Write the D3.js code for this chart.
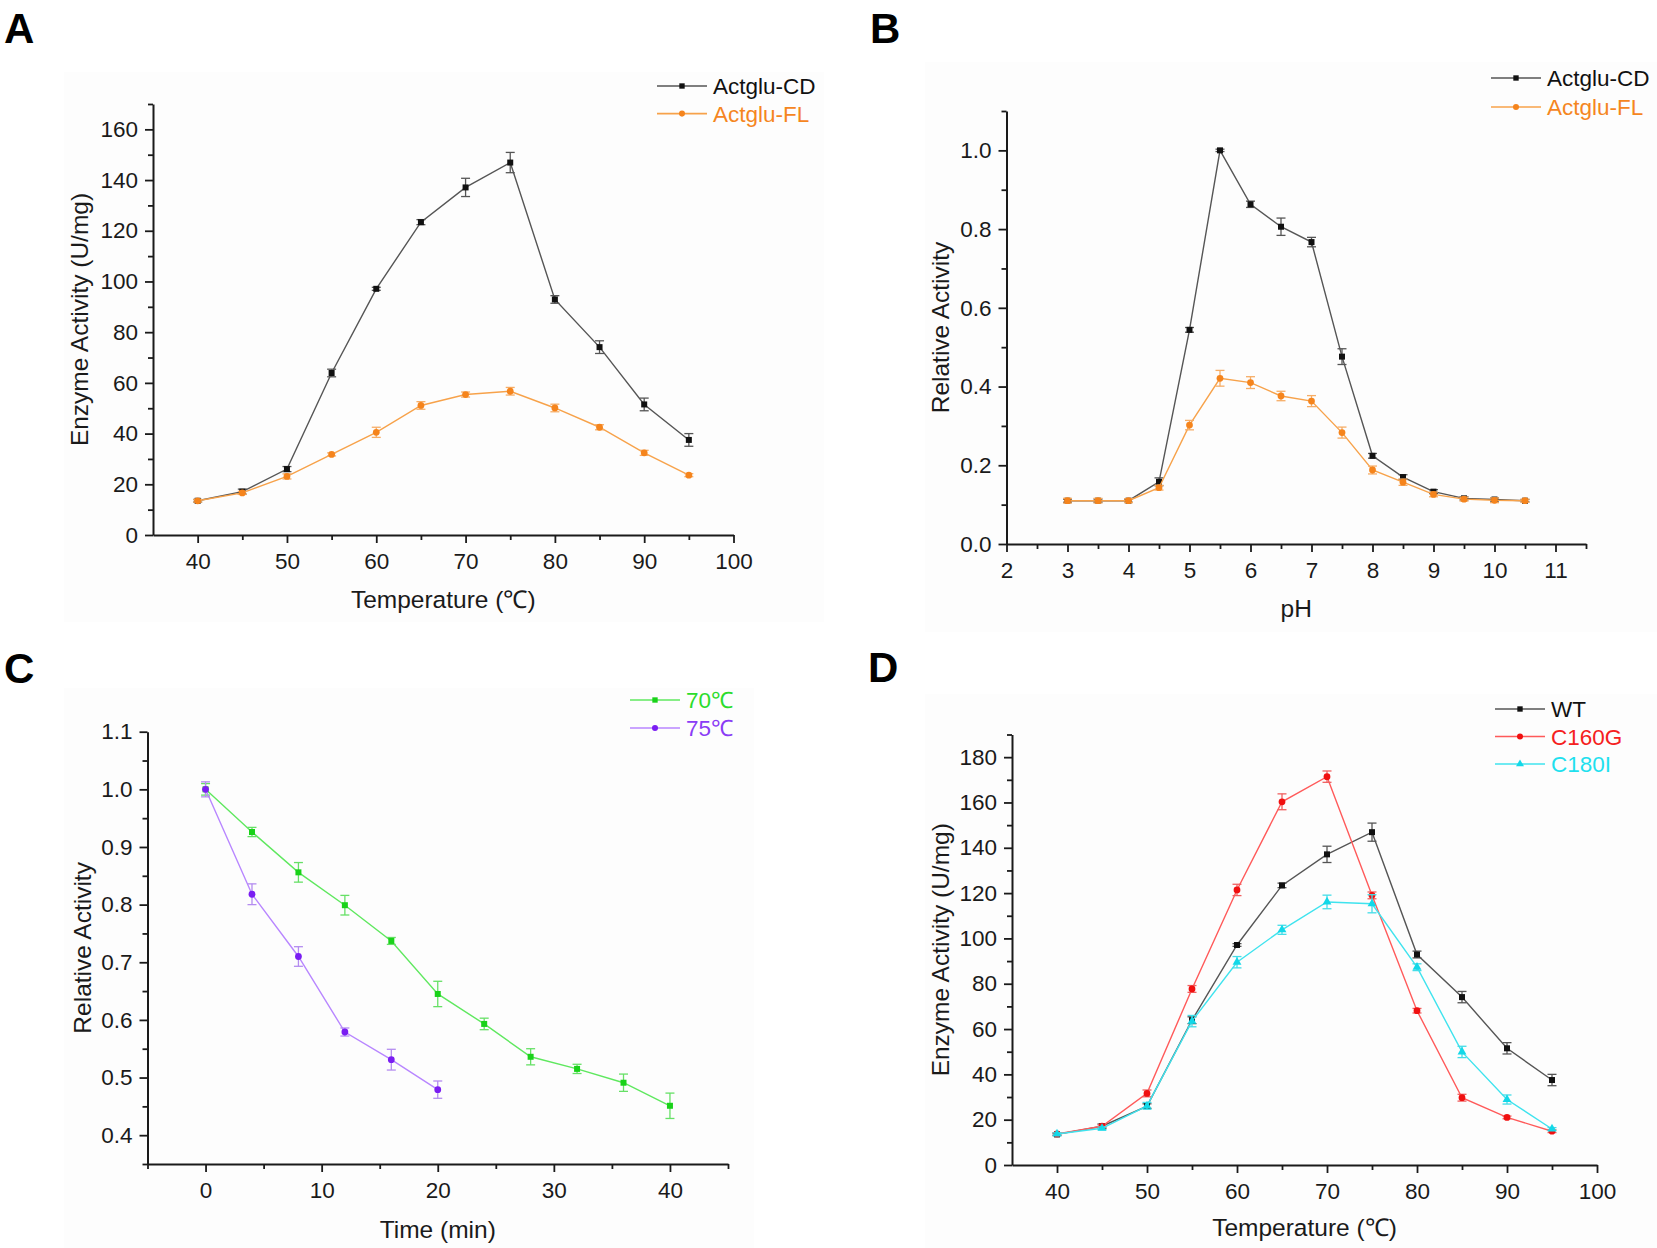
<!DOCTYPE html>
<html>
<head>
<meta charset="utf-8">
<script src="https://cdn.jsdelivr.net/npm/d3@7"></script>
<style>
  html, body { margin: 0; padding: 0; background: #fff; }
  svg { display: block; }
  .tick text { font-family: "Liberation Sans", Arial, sans-serif; }
</style>
</head>
<body>
<svg id="fig" width="1657" height="1248"></svg>
<script>
// ---------------- DATA ----------------
// Panel A: temperature profile
const tempX = [40, 45, 50, 55, 60, 65, 70, 75, 80, 85, 90, 95];
const cdActivity = [13.5, 17.1, 26.0, 63.9, 97.1, 123.4, 137.1, 146.9, 92.9, 74.1, 51.5, 37.5];
const cdActivityErr = [0.5, 1.0, 1.0, 1.5, 0.6, 1.0, 3.6, 4.0, 1.5, 2.5, 2.5, 2.5];
const flActivity = [13.5, 16.6, 23.1, 31.8, 40.5, 51.1, 55.4, 56.7, 50.1, 42.5, 32.4, 23.6];
const flActivityErr = [0.5, 0.6, 1.0, 0.6, 2.0, 1.5, 1.0, 1.5, 1.5, 1.0, 1.0, 0.6];

// Panel B: pH profile
const phX = [3, 3.5, 4, 4.5, 5, 5.5, 6, 6.5, 7, 7.5, 8, 8.5, 9, 9.5, 10, 10.5];
const cdRel = [0.110, 0.110, 0.110, 0.158, 0.544, 1.000, 0.863, 0.806, 0.767, 0.476, 0.224, 0.170, 0.133, 0.116, 0.113, 0.110];
const cdRelErr = [0.004, 0.004, 0.004, 0.010, 0.006, 0.003, 0.008, 0.022, 0.012, 0.020, 0.006, 0.006, 0.005, 0.004, 0.004, 0.003];
const flRel = [0.110, 0.110, 0.110, 0.143, 0.302, 0.421, 0.410, 0.376, 0.363, 0.283, 0.188, 0.157, 0.126, 0.114, 0.111, 0.110];
const flRelErr = [0.006, 0.006, 0.005, 0.006, 0.012, 0.020, 0.015, 0.012, 0.014, 0.014, 0.010, 0.008, 0.006, 0.005, 0.006, 0.004];

// Panel C: thermal stability
const time70 = [0, 4, 8, 12, 16, 20, 24, 28, 32, 36, 40];
const rel70 = [1.000, 0.926, 0.856, 0.799, 0.737, 0.645, 0.593, 0.536, 0.515, 0.491, 0.451];
const rel70Err = [0.010, 0.008, 0.017, 0.017, 0.006, 0.022, 0.010, 0.014, 0.008, 0.015, 0.022];
const time75 = [0, 4, 8, 12, 16, 20];
const rel75 = [1.000, 0.818, 0.710, 0.579, 0.531, 0.479];
const rel75Err = [0.013, 0.018, 0.017, 0.007, 0.018, 0.015];

// Panel D: mutants
const wtActivity = cdActivity;
const wtActivityErr = cdActivityErr;
const c160gActivity = [13.7, 17.1, 31.6, 77.7, 121.4, 160.3, 171.4, 119.0, 68.1, 29.7, 21.0, 14.9];
const c160gErr = [0.5, 0.6, 1.5, 1.5, 2.5, 3.5, 2.5, 1.5, 1.0, 1.5, 0.6, 0.6];
const c180iActivity = [13.7, 16.2, 26.1, 63.5, 89.5, 103.8, 116.1, 115.3, 87.3, 49.9, 28.9, 15.9];
const c180iErr = [0.5, 0.6, 1.5, 2.5, 2.5, 2.0, 3.0, 4.0, 1.5, 2.5, 2.0, 0.6];

// Tick labels / values
const tempMajor = [40, 50, 60, 70, 80, 90, 100];
const tempMinor = [45, 55, 65, 75, 85, 95];
const actMajorA = [0, 20, 40, 60, 80, 100, 120, 140, 160];
const actMinorA = [10, 30, 50, 70, 90, 110, 130, 150, 170];
const phMajor = [2, 3, 4, 5, 6, 7, 8, 9, 10, 11];
const phMinor = [2.5, 3.5, 4.5, 5.5, 6.5, 7.5, 8.5, 9.5, 10.5, 11.5];
const relMajorB = [0, 0.2, 0.4, 0.6, 0.8, 1.0];
const relMinorB = [0.1, 0.3, 0.5, 0.7, 0.9, 1.1];
const timeMajor = [0, 10, 20, 30, 40];
const timeMinor = [-5, 5, 15, 25, 35, 45];
const relMajorC = [0.4, 0.5, 0.6, 0.7, 0.8, 0.9, 1.0, 1.1];
const relMinorC = [0.35, 0.45, 0.55, 0.65, 0.75, 0.85, 0.95, 1.05];
const actMajorD = [0, 20, 40, 60, 80, 100, 120, 140, 160, 180];
const actMinorD = [10, 30, 50, 70, 90, 110, 130, 150, 170, 190];

// ---------------- DRAWING ----------------
const svg = d3.select("#fig");
const FONT = "'Liberation Sans', Arial, Helvetica, sans-serif";
const AXIS = "#1a1a1a";

// very faint panel backgrounds
[[64, 72, 760, 550], [925, 62, 732, 570], [64, 688, 690, 560], [925, 694, 732, 554]].forEach(r => {
  svg.append("rect").attr("x", r[0]).attr("y", r[1]).attr("width", r[2]).attr("height", r[3]).attr("fill", "#fdfdfd");
});

function panel(cfg) {
  const g = svg.append("g");
  const x = d3.scaleLinear().domain(cfg.xDomain).range([cfg.left, cfg.right]);
  const y = d3.scaleLinear().domain(cfg.yDomain).range([cfg.bottom, cfg.top]);

  // minor ticks
  g.append("g").attr("transform", `translate(0,${cfg.bottom})`)
    .call(d3.axisBottom(x).tickValues(cfg.xMinor).tickSize(5).tickFormat(""))
    .call(a => a.select(".domain").remove());
  g.append("g").attr("transform", `translate(${cfg.left},0)`)
    .call(d3.axisLeft(y).tickValues(cfg.yMinor).tickSize(5).tickFormat(""))
    .call(a => a.select(".domain").remove());
  // major
  g.append("g").attr("transform", `translate(0,${cfg.bottom})`)
    .call(d3.axisBottom(x).tickValues(cfg.xMajor).tickSize(8).tickSizeOuter(0).tickPadding(10).tickFormat(cfg.xFmt));
  g.append("g").attr("transform", `translate(${cfg.left},0)`)
    .call(d3.axisLeft(y).tickValues(cfg.yMajor).tickSize(8).tickSizeOuter(0).tickPadding(7).tickFormat(cfg.yFmt));
  g.selectAll(".domain").attr("stroke", AXIS).attr("stroke-width", 2);
  g.selectAll(".tick line").attr("stroke", AXIS).attr("stroke-width", 1.8);
  g.selectAll(".tick text").attr("font-size", 22.5).attr("fill", "#1a1a1a").attr("font-family", FONT);

  // axis titles
  g.append("text").attr("x", (cfg.left + cfg.right) / 2).attr("y", cfg.xTitleY)
    .attr("text-anchor", "middle").attr("font-family", FONT).attr("font-size", 24.5).attr("fill", "#1a1a1a")
    .text(cfg.xTitle);
  g.append("text").attr("transform", `translate(${cfg.yTitleX},${(cfg.top + cfg.bottom) / 2}) rotate(-90)`)
    .attr("text-anchor", "middle").attr("font-family", FONT).attr("font-size", 24.5).attr("fill", "#1a1a1a")
    .text(cfg.yTitle);

  // panel letter
  svg.append("text").attr("x", cfg.letterX).attr("y", cfg.letterY)
    .attr("font-family", "'Liberation Sans', Arial, sans-serif").attr("font-weight", 700)
    .attr("font-size", 42).attr("fill", "#000").text(cfg.letter);

  // series
  cfg.series.forEach(s => {
    const pts = s.x.map((xv, i) => ({ x: xv, y: s.y[i], e: s.e[i] }));
    const sg = g.append("g");
    sg.append("path").datum(pts)
      .attr("d", d3.line().x(d => x(d.x)).y(d => y(d.y)))
      .attr("fill", "none").attr("stroke", s.line).attr("stroke-width", 1.4);
    // error bars
    const eb = sg.selectAll(".eb").data(pts).join("g").attr("stroke", s.err).attr("stroke-width", 1.3);
    eb.append("line").attr("x1", d => x(d.x)).attr("x2", d => x(d.x))
      .attr("y1", d => y(d.y - d.e)).attr("y2", d => y(d.y + d.e));
    eb.append("line").attr("x1", d => x(d.x) - 4.5).attr("x2", d => x(d.x) + 4.5)
      .attr("y1", d => y(d.y + d.e)).attr("y2", d => y(d.y + d.e));
    eb.append("line").attr("x1", d => x(d.x) - 4.5).attr("x2", d => x(d.x) + 4.5)
      .attr("y1", d => y(d.y - d.e)).attr("y2", d => y(d.y - d.e));
    // markers
    sg.selectAll(".mk").data(pts).join("path")
      .attr("transform", d => `translate(${x(d.x)},${y(d.y)})`)
      .attr("d", d3.symbol().type(s.shape).size(s.size))
      .attr("fill", s.marker);
  });

  // legend
  cfg.series.forEach((s, i) => {
    const ly = cfg.legY + i * cfg.legDy;
    svg.append("line").attr("x1", cfg.legX).attr("x2", cfg.legX + 50).attr("y1", ly).attr("y2", ly)
      .attr("stroke", s.line).attr("stroke-width", 1.6);
    svg.append("path").attr("transform", `translate(${cfg.legX + 25},${ly})`)
      .attr("d", d3.symbol().type(s.shape).size(s.size * 0.8)).attr("fill", s.marker);
    svg.append("text").attr("x", cfg.legX + 56).attr("y", ly + 8)
      .attr("font-family", FONT).attr("font-size", 22.5).attr("fill", s.text).text(s.name);
  });
}

const CD = { line: "#555", err: "#555", marker: "#111", text: "#111", shape: d3.symbolSquare, size: 36 };
const FL = { line: "#f7a24a", err: "#f6ad66", marker: "#f5841c", text: "#f5861f", shape: d3.symbolCircle, size: 36 };

panel({
  letter: "A", letterX: 4, letterY: 43,
  left: 153, right: 733.5, top: 104, bottom: 535,
  xDomain: [35, 100], yDomain: [0, 170],
  xMajor: tempMajor, xMinor: tempMinor, yMajor: actMajorA, yMinor: actMinorA,
  xFmt: d3.format("d"), yFmt: d3.format("d"),
  xTitle: "Temperature (℃)", xTitleY: 608,
  yTitle: "Enzyme Activity (U/mg)", yTitleX: 88,
  legX: 657, legY: 86, legDy: 27.6,
  series: [
    Object.assign({ name: "Actglu-CD", x: tempX, y: cdActivity, e: cdActivityErr }, CD),
    Object.assign({ name: "Actglu-FL", x: tempX, y: flActivity, e: flActivityErr }, FL)
  ]
});

panel({
  letter: "B", letterX: 870, letterY: 43,
  left: 1006.5, right: 1586, top: 111, bottom: 544,
  xDomain: [2, 11.5], yDomain: [0, 1.1],
  xMajor: phMajor, xMinor: phMinor, yMajor: relMajorB, yMinor: relMinorB,
  xFmt: d3.format("d"), yFmt: d3.format(".1f"),
  xTitle: "pH", xTitleY: 617,
  yTitle: "Relative Activity", yTitleX: 949,
  legX: 1491, legY: 78, legDy: 29,
  series: [
    Object.assign({ name: "Actglu-CD", x: phX, y: cdRel, e: cdRelErr }, CD),
    Object.assign({ name: "Actglu-FL", x: phX, y: flRel, e: flRelErr }, FL)
  ]
});

panel({
  letter: "C", letterX: 4, letterY: 683,
  left: 147.5, right: 728, top: 731.7, bottom: 1164,
  xDomain: [-5, 45], yDomain: [0.35, 1.1],
  xMajor: timeMajor, xMinor: timeMinor, yMajor: relMajorC, yMinor: relMinorC,
  xFmt: d3.format("d"), yFmt: d3.format(".1f"),
  xTitle: "Time (min)", xTitleY: 1238,
  yTitle: "Relative Activity", yTitleX: 91,
  legX: 630, legY: 700, legDy: 28,
  series: [
    { name: "70℃", x: time70, y: rel70, e: rel70Err, line: "#5fe85f", err: "#66e066", marker: "#19d219", text: "#2bdc2b", shape: d3.symbolSquare, size: 36 },
    { name: "75℃", x: time75, y: rel75, e: rel75Err, line: "#b886ff", err: "#b48cf0", marker: "#7a1df2", text: "#8a3cf5", shape: d3.symbolCircle, size: 36 }
  ]
});

panel({
  letter: "D", letterX: 868, letterY: 682,
  left: 1012, right: 1597, top: 734.5, bottom: 1165,
  xDomain: [35, 100], yDomain: [0, 190],
  xMajor: tempMajor, xMinor: tempMinor, yMajor: actMajorD, yMinor: actMinorD,
  xFmt: d3.format("d"), yFmt: d3.format("d"),
  xTitle: "Temperature (℃)", xTitleY: 1236,
  yTitle: "Enzyme Activity (U/mg)", yTitleX: 949,
  legX: 1495, legY: 709, legDy: 27.5,
  series: [
    Object.assign({ name: "WT", x: tempX, y: wtActivity, e: wtActivityErr }, CD),
    { name: "C160G", x: tempX, y: c160gActivity, e: c160gErr, line: "#ff5a5a", err: "#f06060", marker: "#f01010", text: "#f52020", shape: d3.symbolCircle, size: 36 },
    { name: "C180I", x: tempX, y: c180iActivity, e: c180iErr, line: "#3fe3ee", err: "#44dde8", marker: "#12d8e8", text: "#1fe0ee", shape: d3.symbolTriangle, size: 34 }
  ]
});
</script>
</body>
</html>
